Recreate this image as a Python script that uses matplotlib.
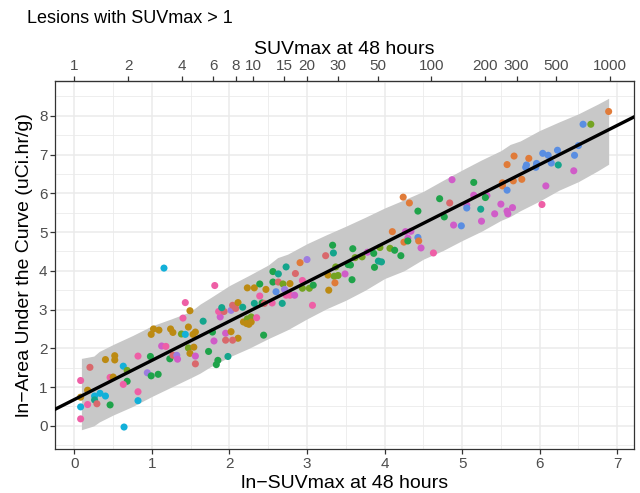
import numpy as np
import matplotlib
matplotlib.use("Agg")
import matplotlib.pyplot as plt

plt.rcParams["font.family"] = ["Liberation Sans", "DejaVu Sans"]

# ---------------- DATA ----------------
# lesion points: ln-SUVmax (x), ln-AUC (y), colour group
lesion_x = [0.08, 0.17, 0.08, 0.08, 0.08, 0.17, 0.20, 0.26, 0.26, 0.29, 0.33, 0.40, 0.46, 0.40, 0.52,
            0.52, 0.46, 0.50, 0.63, 0.68, 0.68, 0.63, 0.64, 0.82, 0.82, 0.82, 0.94, 0.99, 1.08, 0.98,
            0.99, 1.02, 1.09, 1.125, 1.18, 1.155, 1.23, 1.27, 1.32, 1.33, 1.24, 1.27, 1.38, 1.43, 1.40,
            1.43, 1.47, 1.53, 1.56, 1.47, 1.54, 1.49, 1.56, 1.56, 1.49, 1.66, 1.73, 1.81, 1.78, 1.80,
            1.85, 1.83, 1.98, 1.88, 1.86, 1.93, 1.90, 1.95, 1.95, 2.02, 2.02, 2.04, 2.08, 2.11, 2.11,
            2.04, 2.17, 2.18, 2.23, 2.28, 2.22, 2.25, 2.28, 2.23, 2.32, 2.32, 2.35, 2.39, 2.39, 2.42,
            2.44, 2.45, 2.47, 2.55, 2.56, 2.56, 2.63, 2.63, 2.60, 2.68, 2.69, 2.71, 2.73, 2.73, 2.78,
            2.78, 2.85, 2.84, 2.91, 2.94, 2.94, 3.00, 3.03, 3.08, 3.07, 3.24, 3.27, 3.28, 3.34, 3.33,
            3.35, 3.37, 3.36, 3.40, 3.49, 3.53, 3.58, 3.59, 3.62, 3.71, 3.78, 3.86, 3.87, 3.92, 3.96,
            3.94, 4.07, 4.13, 4.21, 4.10, 4.27, 4.34, 4.30, 4.43, 4.25, 4.30, 4.44, 4.47, 4.63, 4.24,
            4.32, 4.43, 4.71, 4.84, 4.77, 4.89, 4.99, 4.87, 5.15, 5.06, 5.06, 5.15, 5.32, 5.30, 5.24,
            5.25, 5.42, 5.50, 5.58, 5.59, 5.65, 5.52, 5.52, 5.58, 5.67, 5.66, 5.77, 5.58, 5.83, 5.82,
            5.86, 5.95, 5.96, 6.04, 6.11, 6.15, 6.23, 6.24, 6.03, 6.08, 6.44, 6.45, 6.50, 6.56, 6.66,
            6.89, 3.56]
lesion_y = [1.17, 0.92, 0.74, 0.49, 0.18, 0.55, 1.51, 0.77, 0.67, 0.57, 0.84, 0.77, 0.54, 1.71, 1.81,
            1.70, 1.25, 1.26, 1.54, 1.43, 1.15, 1.07, -0.03, 1.80, 0.88, 0.65, 1.37, 1.29, 1.33, 1.79,
            2.36, 2.50, 2.47, 2.06, 2.05, 4.07, 1.73, 1.82, 1.82, 1.72, 2.50, 2.41, 2.37, 2.36, 2.78,
            3.18, 2.55, 2.36, 2.42, 2.01, 2.03, 1.87, 1.80, 1.60, 2.97, 2.70, 1.92, 3.62, 2.42, 2.19,
            1.69, 1.58, 1.79, 2.81, 2.95, 2.95, 3.05, 2.39, 2.21, 2.98, 2.43, 3.11, 3.03, 3.18, 2.26,
            2.21, 3.06, 2.68, 2.76, 2.81, 2.64, 2.62, 2.68, 3.56, 3.56, 3.16, 2.79, 3.66, 3.35, 3.17,
            2.34, 3.16, 3.52, 3.17, 3.98, 3.71, 3.71, 3.92, 3.46, 3.16, 3.66, 3.52, 4.10, 3.37, 3.67,
            3.37, 3.93, 3.37, 4.21, 3.55, 3.75, 4.29, 3.55, 3.63, 3.11, 4.39, 3.89, 3.50, 4.46, 4.66,
            3.86, 4.10, 3.69, 3.88, 3.92, 4.16, 3.77, 4.57, 4.34, 4.36, 4.48, 4.45, 4.09, 4.25, 4.23,
            4.60, 4.58, 4.53, 4.39, 5.01, 5.01, 5.02, 4.84, 4.86, 4.74, 4.77, 4.77, 4.59, 4.46, 5.90,
            5.75, 5.54, 5.86, 5.75, 5.39, 5.18, 5.16, 6.35, 6.28, 5.70, 5.62, 5.95, 5.94, 5.89, 5.59,
            5.28, 5.47, 5.72, 5.54, 5.47, 5.63, 6.27, 6.19, 6.74, 6.96, 6.32, 6.36, 6.08, 6.73, 6.67,
            6.90, 6.67, 6.77, 7.03, 6.98, 6.78, 7.11, 6.73, 5.71, 6.19, 6.58, 6.98, 7.23, 7.78, 7.78,
            8.11, 4.15]
lesion_grp = ["K", "Y", "Y", "C", "K", "K", "R", "C", "T", "R", "C", "C", "G", "Y", "Y",
              "Y", "K", "Y", "C", "L", "G", "K", "C", "K", "K", "C", "P", "G", "G", "G",
              "Y", "Y", "Y", "M", "K", "C", "G", "R", "P", "M", "Y", "Y", "L", "C", "K",
              "K", "Y", "Y", "Y", "L", "Y", "Y", "M", "R", "Y", "T", "G", "K", "G", "M",
              "G", "G", "T", "M", "K", "R", "T", "M", "R", "P", "Y", "R", "R", "Y", "Y",
              "R", "T", "Y", "L", "L", "Y", "Y", "Y", "Y", "Y", "T", "K", "G", "K", "G",
              "G", "R", "Y", "K", "G", "G", "R", "T", "B", "T", "L", "P", "T", "K", "Y",
              "K", "R", "M", "O", "L", "K", "P", "L", "G", "K", "R", "Y", "Y", "T", "G",
              "L", "L", "O", "L", "M", "G", "G", "G", "L", "L", "M", "G", "G", "T", "T",
              "L", "L", "G", "G", "O", "M", "M", "M", "B", "O", "G", "O", "M", "K", "O",
              "O", "G", "G", "R", "G", "M", "B", "M", "G", "M", "B", "M", "M", "G", "T",
              "M", "M", "M", "M", "M", "M", "O", "O", "O", "O", "O", "O", "B", "B", "B",
              "O", "B", "B", "B", "B", "B", "B", "T", "K", "M", "M", "B", "B", "B", "L",
              "O", "G"]
group_colors = {
    "R": "#D9686C", "O": "#E07B39", "Y": "#BC8A12", "L": "#74A322", "G": "#1FA34A",
    "T": "#14A58C", "C": "#12B0D9", "B": "#5A8EE2", "P": "#9D7CE0", "M": "#D05CC8",
    "K": "#EE5FA6",
}

# fitted line  ln-AUC = a + b * ln-SUVmax
fit_intercept = 0.68
fit_slope = 1.01

# prediction band (edges are ragged)
band_x = [0.09, 0.25, 0.32, 0.5, 0.75, 1.0, 1.25, 1.5, 1.62, 1.75, 2.0, 2.25, 2.5, 2.62, 2.75, 3.0,
          3.25, 3.5, 3.75, 4.0, 4.25, 4.5, 4.75, 5.0, 5.25, 5.5, 5.62, 5.75, 6.0, 6.25, 6.5, 6.75, 6.89]
band_hi = [1.74, 1.80, 1.92, 2.10, 2.33, 2.58, 2.76, 2.95, 3.14, 3.30, 3.62, 3.88, 4.15, 4.34, 4.43,
           4.70, 4.93, 5.15, 5.38, 5.62, 5.83, 6.05, 6.33, 6.60, 6.86, 7.10, 7.26, 7.35, 7.62, 7.84,
           8.05, 8.30, 8.45]
band_lo = [-0.10, 0.00, 0.10, 0.28, 0.50, 0.76, 1.00, 1.24, 1.36, 1.52, 1.78, 2.00, 2.25, 2.36,
           2.48, 2.76, 3.02, 3.24, 3.50, 3.80, 4.00, 4.30, 4.52, 4.78, 5.02, 5.30, 5.40, 5.55, 5.80,
           6.08, 6.30, 6.58, 6.75]

suv_ticks = [1, 2, 4, 6, 8, 10, 15, 20, 30, 50, 100, 200, 300, 500, 1000]

# ---------------- PLOT ----------------
fig = plt.figure(figsize=(6.4, 4.93), dpi=100)
ax = fig.add_axes([0.086, 0.089, 0.905, 0.747])

ax.fill_between(band_x, band_lo, band_hi, color="#C8C8C8", lw=0, zorder=2)
cols = [group_colors[g] for g in lesion_grp]
ax.scatter(lesion_x, lesion_y, s=26, c=cols, lw=0, zorder=3)
ax.axline((0, fit_intercept), slope=fit_slope, color="black", lw=2.4, zorder=4)

ax.set_xlim(-0.25, 7.22)
ax.set_ylim(-0.60, 8.9)
ax.set_xticks(range(0, 8))
ax.set_yticks(range(0, 9))
ax.set_xticks(np.arange(0.5, 7.5, 1), minor=True)
ax.set_yticks(np.arange(-0.5, 9, 1), minor=True)
ax.grid(which="major", color="#EBEBEB", lw=1.1, zorder=0)
ax.grid(which="minor", color="#EBEBEB", lw=0.6, zorder=0)
ax.set_axisbelow(True)
ax.tick_params(which="minor", length=0)
ax.tick_params(which="major", length=3.5, width=0.9, color="#333333",
               labelcolor="#4D4D4D", labelsize=11, pad=2)
for s in ax.spines.values():
    s.set_color("#333333")
    s.set_linewidth(0.9)

ax.set_xlabel("ln\u2212SUVmax at 48 hours", fontsize=14, color="black", labelpad=3)
ax.set_ylabel("ln\u2212Area Under the Curve (uCi.hr/g)", fontsize=14, color="black", labelpad=4)

top = ax.secondary_xaxis("top")
top.set_xticks(np.log(suv_ticks), labels=[str(v) for v in suv_ticks])
top.tick_params(length=3.5, width=0.9, color="#333333", labelcolor="#4D4D4D",
                labelsize=11, pad=2)
top.set_xlabel("SUVmax at 48 hours", fontsize=14, labelpad=4)

fig.text(0.042, 0.963, "Lesions with SUVmax > 1", fontsize=13, va="center", ha="left")

fig.savefig("out.png", dpi=100)
